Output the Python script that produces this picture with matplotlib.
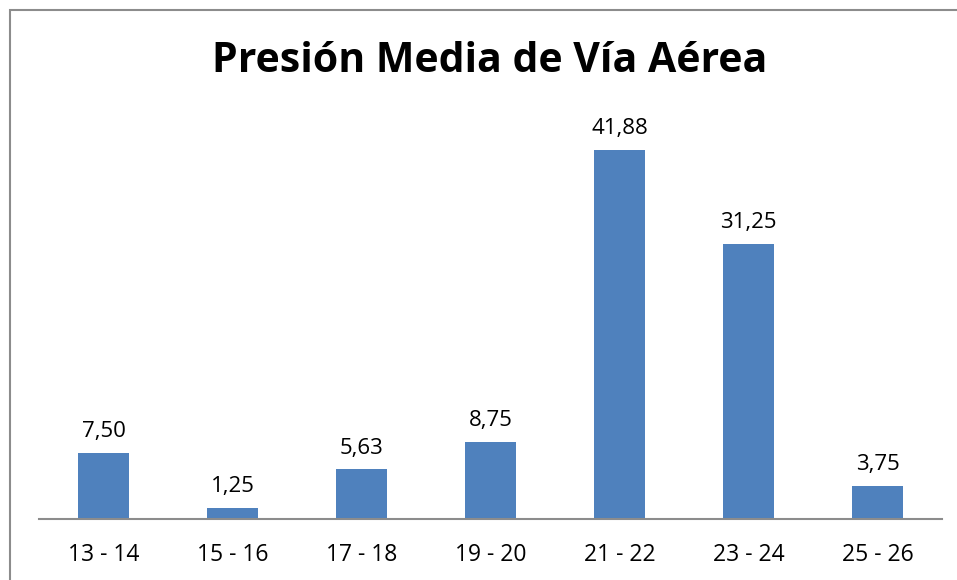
import matplotlib
matplotlib.use('Agg')
import matplotlib.pyplot as plt
from matplotlib.patches import Rectangle

categorias = ["13 - 14", "15 - 16", "17 - 18", "19 - 20", "21 - 22", "23 - 24", "25 - 26"]
valores = [7.50, 1.25, 5.63, 8.75, 41.88, 31.25, 3.75]

plt.rcParams['font.family'] = ['Open Sans', 'DejaVu Sans']

W, H = 957, 580
fig = plt.figure(figsize=(W / 100, H / 100), dpi=100)
fig.patch.set_facecolor('white')

# marco gris (se sale por la derecha y abajo)
fig.patches.append(Rectangle((10 / W, -0.1), 1.2, (H - 10) / H + 0.1, transform=fig.transFigure,
                             fill=False, edgecolor='#8c8c8c', linewidth=1.5))

ax = fig.add_axes([39 / W, (H - 519) / H, 903 / W, 396.5 / H])
x = range(len(categorias))
bars = ax.bar(x, valores, width=0.4, color='#4f81bd')
ax.set_xlim(-0.5, len(categorias) - 0.5)
ax.set_ylim(0, 45)

for b, v in zip(bars, valores):
    ax.text(b.get_x() + b.get_width() / 2, v + 1.2, f"{v:.2f}".replace('.', ','),
            ha='center', va='bottom', fontsize=16)

ax.set_xticks(list(x))
ax.set_xticklabels(categorias, fontsize=16.5)
ax.tick_params(axis='x', length=0, pad=17)
ax.set_yticks([])
for s in ['top', 'right', 'left']:
    ax.spines[s].set_visible(False)
ax.spines['bottom'].set_color('#8c8c8c')
ax.spines['bottom'].set_linewidth(1.5)

fig.text(490 / W, (H - 62) / H, "Presión Media de Vía Aérea", ha='center', va='center',
         fontsize=29.5, fontweight='bold')

fig.savefig("out.png", dpi=100)
